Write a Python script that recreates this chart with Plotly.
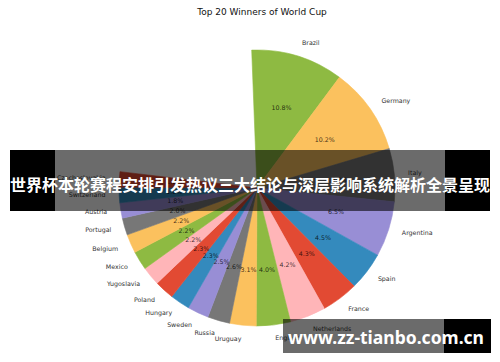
import numpy as np
import plotly.graph_objects as go

# ---------------- data ----------------
title_text = "Top 20 Winners of World Cup"
countries = ["Brazil", "Germany", "Italy", "Argentina", "Spain", "France",
             "Netherlands", "England", "Uruguay", "Russia", "Sweden", "Hungary",
             "Poland", "Yugoslavia", "Mexico", "Belgium", "Portugal", "Austria",
             "Switzerland", "Czechoslovakia"]
shares = [10.8, 10.2, 6.2, 6.5, 4.5, 4.3, 4.2, 4.0, 3.1, 2.6, 2.5, 2.3,
          2.3, 2.2, 2.2, 2.2, 2.0, 1.8, 1.8, 1.8]
palette = ["#E24A33", "#348ABD", "#988ED5", "#777777", "#FBC15E", "#8EBA42", "#FFB5B8"]
banner_text = "世界杯本轮赛程安排引发热议三大结论与深层影响系统解析全景呈现"
watermark_text = "www.zz-tianbo.com.cn"

# ---------------- geometry / style ----------------
W, H = 500, 362
cx, cy, R = 257, 188, 138
r_max = 1.25                # radial axis range so outer labels stay inside it
start_offset = 2.2          # degrees counter-clockwise from 12 o'clock

n = len(countries)
vals = np.array(shares, dtype=float)
cum = np.cumsum(vals)
theta_mid = (cum - vals / 2) * 3.6
widths = vals * 3.6
colors = [palette[(n - 1 - i) % len(palette)] for i in range(n)]
screen_ang = np.radians(theta_mid - start_offset)
label_pos = ["middle right" if np.sin(a) >= 0 else "middle left" for a in screen_ang]

Rp = R * r_max
dom_x = [(cx - Rp) / W, (cx + Rp) / W]
dom_y = [(H - cy - Rp) / H, (H - cy + Rp) / H]

fig = go.Figure()
fig.add_trace(go.Barpolar(
    r=np.ones(n), theta=theta_mid, width=widths,
    marker=dict(color=colors, line=dict(color=colors, width=0.6)),
    hoverinfo="skip", showlegend=False))
fig.add_trace(go.Scatterpolar(
    r=np.full(n, 0.6), theta=theta_mid, mode="text",
    text=[f"{v:.1f}%" for v in vals], textposition="middle center",
    textfont=dict(family="DejaVu Sans", size=6.3, color="rgba(0,0,0,0.78)"),
    cliponaxis=False, hoverinfo="skip", showlegend=False))
fig.add_trace(go.Scatterpolar(
    r=np.full(n, 1.1), theta=theta_mid, mode="text",
    text=countries, textposition=label_pos,
    textfont=dict(family="DejaVu Sans", size=6.3, color="#333333"),
    cliponaxis=False, hoverinfo="skip", showlegend=False))

def px(x):
    return x / W

def py(y):
    return 1 - y / H

shade = "rgba(0,0,0,0.58)"
shapes = [
    dict(type="rect", xref="paper", yref="paper", x0=px(10), x1=px(55), y0=py(211), y1=py(150),
         fillcolor="black", line=dict(width=0), layer="above"),
    dict(type="rect", xref="paper", yref="paper", x0=px(55), x1=px(445), y0=py(211), y1=py(150),
         fillcolor=shade, line=dict(width=0), layer="above"),
    dict(type="rect", xref="paper", yref="paper", x0=px(445), x1=px(490), y0=py(211), y1=py(150),
         fillcolor="black", line=dict(width=0), layer="above"),
    dict(type="rect", xref="paper", yref="paper", x0=px(283), x1=px(444), y0=py(353), y1=py(319),
         fillcolor=shade, line=dict(width=0), layer="above"),
    dict(type="rect", xref="paper", yref="paper", x0=px(444), x1=px(491), y0=py(353), y1=py(319),
         fillcolor="black", line=dict(width=0), layer="above"),
]
annotations = [
    dict(text=f"<b>{banner_text}</b>", x=px(250), y=py(184), xref="paper", yref="paper",
         showarrow=False, xanchor="center", yanchor="middle",
         font=dict(family="Noto Sans CJK SC", size=16, color="white")),
    dict(text=f"<b>{watermark_text}</b>", x=px(386), y=py(337), xref="paper", yref="paper",
         showarrow=False, xanchor="center", yanchor="middle",
         font=dict(family="Noto Sans", size=17.5, color="white")),
]

fig.update_layout(
    width=W, height=H, margin=dict(l=0, r=0, t=0, b=0),
    paper_bgcolor="white", plot_bgcolor="white",
    polar=dict(domain=dict(x=dom_x, y=dom_y), bgcolor="rgba(0,0,0,0)", bargap=0, hole=0,
               radialaxis=dict(visible=False, range=[0, r_max]),
               angularaxis=dict(visible=False, rotation=90 + start_offset, direction="clockwise")),
    title=dict(text=title_text, x=px(262), y=py(12), xanchor="center", yanchor="middle",
               font=dict(family="DejaVu Sans", size=9, color="#111111")),
    shapes=shapes, annotations=annotations,
)

fig.write_html("out.html")
